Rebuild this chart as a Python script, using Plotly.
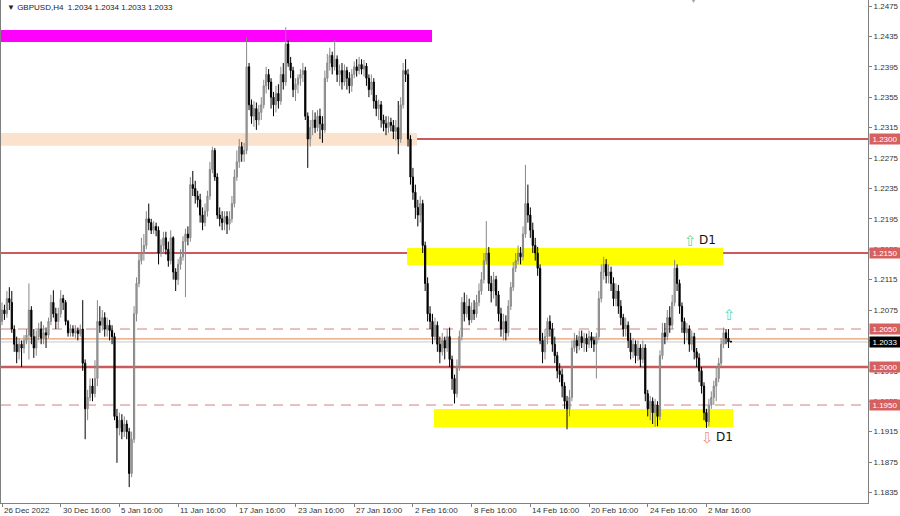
import plotly.graph_objects as go

# ---- data (prices in pips: value / 10000) ----
opens_p = [
12060,12075,12070,12090,12085,12050,12030,12020,12030,12025,
12035,12042,12075,12040,12025,12040,12050,12038,12045,12042,
12060,12085,12070,12060,12070,12090,12085,12060,12045,12050,
12045,12048,12044,12050,12005,11945,11960,11975,11965,11985,
12060,12055,12065,12050,12055,12048,12040,11935,11920,11930,
11915,11925,11915,11860,11905,12070,12110,12140,12150,12160,
12195,12190,12180,12185,12180,12150,12160,12170,12155,12140,
12170,12125,12115,12135,12145,12165,12175,12170,12240,12235,
12225,12220,12200,12190,12205,12225,12260,12285,12250,12200,
12195,12190,12198,12188,12195,12215,12250,12270,12290,12280,
12285,12395,12345,12330,12340,12325,12335,12345,12370,12385,
12375,12355,12345,12360,12350,12385,12375,12425,12400,12390,
12365,12372,12380,12385,12390,12330,12300,12315,12325,12315,
12330,12320,12312,12380,12400,12410,12395,12405,12385,12390,
12375,12390,12380,12370,12385,12395,12390,12398,12392,12396,
12380,12365,12375,12350,12340,12345,12325,12320,12315,12322,
12318,12310,12315,12300,12345,12390,12385,12300,12250,12230,
12210,12200,12215,12160,12110,12070,12060,12040,12055,12030,
12020,12035,12025,12040,12010,11985,11965,12000,12040,12085,
12070,12080,12062,12075,12070,12085,12100,12115,12140,12150,
12110,12100,12115,12095,12070,12050,12060,12045,12080,12105,
12130,12140,12150,12145,12175,12215,12200,12180,12160,12150,
12130,12035,12020,12040,12060,12050,12030,12015,11995,11990,
11975,11955,11945,11960,12025,12035,12028,12040,12032,12038,
12030,12040,12035,12030,12040,12090,12125,12135,12120,12125,
12110,12090,12100,12080,12065,12050,12055,12035,12020,12030,
12015,12025,12010,12025,11965,11945,11955,11940,11950,11935,
12015,12045,12040,12065,12055,12085,12130,12110,12080,12060,
12045,12050,12030,12040,12020,12012,11995,11975,11940,11928,
11950,11960,11975,11985,12005,12030,12045,12038,12034]

highs_p = [
12085,12082,12100,12105,12100,12055,12040,12038,12035,12042,
12050,12110,12080,12050,12048,12058,12060,12055,12052,12065,
12095,12101,12078,12078,12101,12095,12088,12062,12056,12055,
12055,12052,12056,12088,12010,11970,11985,11985,12009,12088,
12080,12075,12072,12065,12062,12055,12045,11945,11940,11938,
11935,11930,11920,11915,12080,12118,12150,12170,12175,12205,
12215,12195,12192,12190,12185,12168,12178,12178,12165,12180,
12172,12130,12142,12155,12172,12182,12185,12250,12258,12245,
12232,12228,12210,12215,12232,12270,12290,12288,12255,12210,
12205,12205,12205,12205,12225,12260,12285,12300,12296,12295,
12434,12400,12352,12350,12348,12345,12355,12378,12395,12392,
12380,12362,12370,12372,12395,12400,12447,12430,12408,12395,
12380,12385,12392,12400,12395,12335,12325,12338,12335,12338,
12340,12330,12390,12412,12420,12415,12430,12410,12398,12400,
12398,12395,12388,12392,12402,12405,12408,12405,12404,12400,
12385,12385,12380,12358,12352,12350,12332,12330,12330,12328,
12325,12325,12350,12355,12400,12405,12392,12305,12262,12240,
12220,12225,12220,12165,12118,12080,12070,12065,12060,12040,
12045,12040,12050,12052,12015,11990,12010,12048,12092,12098,
12095,12090,12085,12088,12095,12110,12125,12150,12192,12158,
12120,12125,12120,12100,12078,12070,12068,12088,12112,12138,
12150,12160,12158,12185,12266,12240,12210,12190,12170,12158,
12135,12045,12050,12065,12068,12058,12040,12020,12005,11998,
11980,11962,11970,12035,12045,12042,12048,12048,12045,12044,
12048,12046,12040,12045,12100,12135,12145,12142,12135,12132,
12118,12110,12108,12088,12070,12065,12060,12045,12038,12035,
12035,12030,12035,12030,11970,11962,11960,11958,11955,12022,
12058,12058,12075,12080,12095,12141,12135,12115,12085,12065,
12058,12055,12048,12045,12025,12018,12000,11980,11945,11958,
11968,11982,12000,12012,12038,12052,12050,12050,12034]

lows_p = [
12055,12062,12065,12075,12045,12020,12005,12010,12000,12018,
12030,12010,12030,12012,12015,12035,12030,12030,12025,12038,
12055,12065,12050,12050,12065,12075,12055,12040,12040,12040,
12038,12035,12040,11995,11905,11930,11955,11955,11960,11975,
12045,12048,12040,12040,12035,12030,11930,11874,11910,11905,
11908,11905,11842,11855,11900,12060,12105,12135,12140,12155,
12180,12175,12175,12172,12135,12145,12150,12148,12132,12135,
12115,12100,12108,12128,12140,12092,12160,12165,12225,12215,
12210,12190,12180,12185,12198,12220,12255,12245,12195,12185,
12180,12180,12175,12180,12190,12210,12245,12262,12270,12270,
12280,12338,12320,12316,12312,12318,12325,12340,12360,12365,
12340,12330,12335,12340,12345,12365,12370,12395,12380,12355,
12350,12360,12370,12375,12325,12262,12290,12305,12308,12310,
12300,12295,12308,12375,12390,12385,12390,12375,12370,12365,
12370,12365,12360,12362,12380,12382,12385,12385,12382,12370,
12355,12358,12340,12330,12325,12315,12310,12305,12308,12310,
12300,12298,12280,12295,12340,12375,12290,12240,12220,12195,
12185,12190,12150,12100,12060,12050,12030,12035,12020,12005,
12015,12010,12020,12000,11970,11952,11960,11995,12035,12060,
12065,12055,12058,12062,12065,12080,12095,12110,12135,12100,
12085,12090,12080,12060,12040,12035,12035,12040,12075,12100,
12125,12135,12135,12140,12170,12190,12170,12150,12140,12120,
12030,12005,12010,12030,12040,12020,12005,11985,11980,11960,
11945,11918,11935,11955,12020,12018,12022,12025,12020,12020,
12025,12025,12020,11985,12035,12085,12115,12110,12110,12100,
12080,12080,12070,12055,12040,12040,12025,12010,12012,12005,
12008,12000,12005,11955,11935,11930,11925,11921,11922,11930,
12010,12030,12035,12045,12050,12080,12100,12070,12045,12030,
12035,12020,12022,12010,12000,11980,11965,11930,11920,11922,
11945,11950,11955,11980,12000,12025,12030,12025,12033]

closes_p = [
12075,12070,12090,12085,12050,12030,12020,12030,12025,12035,
12042,12075,12040,12025,12040,12050,12038,12045,12042,12060,
12085,12070,12060,12070,12090,12085,12060,12045,12050,12045,
12048,12044,12050,12005,11945,11960,11975,11965,11985,12060,
12055,12065,12050,12055,12048,12040,11935,11920,11930,11915,
11925,11915,11860,11905,12070,12110,12140,12150,12160,12195,
12190,12180,12185,12180,12150,12160,12170,12155,12140,12170,
12125,12115,12135,12145,12165,12175,12170,12240,12235,12225,
12220,12200,12190,12205,12225,12260,12285,12250,12200,12195,
12190,12198,12188,12195,12215,12250,12270,12290,12280,12285,
12395,12345,12330,12340,12325,12335,12345,12370,12385,12375,
12355,12345,12360,12350,12385,12375,12425,12400,12390,12365,
12372,12380,12385,12390,12330,12300,12315,12325,12315,12330,
12320,12312,12380,12400,12410,12395,12405,12385,12390,12375,
12390,12380,12370,12385,12395,12390,12398,12392,12396,12380,
12365,12375,12350,12340,12345,12325,12320,12315,12322,12318,
12310,12315,12300,12345,12390,12385,12300,12250,12230,12210,
12200,12215,12160,12110,12070,12060,12040,12055,12030,12020,
12035,12025,12040,12010,11985,11965,12000,12040,12085,12070,
12080,12062,12075,12070,12085,12100,12115,12140,12150,12110,
12100,12115,12095,12070,12050,12060,12045,12080,12105,12130,
12140,12150,12145,12175,12215,12200,12180,12160,12150,12130,
12035,12020,12040,12060,12050,12030,12015,11995,11990,11975,
11955,11945,11960,12025,12035,12028,12040,12032,12038,12030,
12040,12035,12030,12040,12090,12125,12135,12120,12125,12110,
12090,12100,12080,12065,12050,12055,12035,12020,12030,12015,
12025,12010,12025,11965,11945,11955,11940,11950,11935,12015,
12045,12040,12065,12055,12085,12130,12110,12080,12060,12045,
12050,12030,12040,12020,12012,11995,11975,11940,11928,11950,
11960,11975,11985,12005,12030,12045,12038,12033,12033]

date_labels = ["26 Dec 2022", "30 Dec 16:00", "5 Jan 16:00", "11 Jan 16:00",
               "17 Jan 16:00", "23 Jan 16:00", "27 Jan 16:00", "2 Feb 16:00",
               "8 Feb 16:00", "14 Feb 16:00", "20 Feb 16:00", "24 Feb 16:00",
               "2 Mar 16:00"]
date_bar_index = [0, 24, 48, 72, 96, 120, 144, 168, 192, 216, 240, 264, 288]

price_ticks = ["1.2475", "1.2435", "1.2395", "1.2355", "1.2315", "1.2275",
               "1.2235", "1.2195", "1.2155", "1.2115", "1.2075", "1.2035",
               "1.1995", "1.1955", "1.1915", "1.1875", "1.1835"]

solid_levels = [1.2300, 1.2150, 1.2000]
dashed_levels = [1.2050, 1.1950]
bid_price = 1.2033
user_line = 1.2037

header = "\u25BC GBPUSD,H4  1.2034 1.2034 1.2033 1.2033"

# rectangle zones: (x0 bar, x1 bar, price low, price high)
magenta_zone = (-1.0, 175.8, 1.24277, 1.24434)
peach_zone = (-1.0, 169.7, 1.22911, 1.23080)
yellow_zone_hi = (165.6, 294.8, 1.21342, 1.21566)
yellow_zone_lo = (176.6, 298.9, 1.19210, 1.19447)

# ---- figure ----
n = len(closes_p)
xs = list(range(n))
o = [v / 10000 for v in opens_p]
h = [v / 10000 for v in highs_p]
l = [v / 10000 for v in lows_p]
c = [v / 10000 for v in closes_p]

FONT = "Tahoma, Liberation Sans, Arial, sans-serif"
LINE_RED = "#cc5a5a"

fig = go.Figure()

shapes = []
def rect(zone, color):
    x0, x1, y0, y1 = zone
    shapes.append(dict(type="rect", xref="x", yref="y", x0=x0, x1=x1, y0=y0, y1=y1,
                       fillcolor=color, line=dict(width=0), layer="below"))

rect(magenta_zone, "#ff00ff")
rect(peach_zone, "#fbe2cd")
rect(yellow_zone_hi, "#ffff00")
rect(yellow_zone_lo, "#ffff00")

for lv in solid_levels:
    shapes.append(dict(type="line", xref="paper", yref="y", x0=0, x1=1, y0=lv, y1=lv,
                       line=dict(color=LINE_RED, width=2.5 if lv == 1.2000 else 2),
                       layer="below"))
for lv in dashed_levels:
    shapes.append(dict(type="line", xref="paper", yref="y", x0=0, x1=1, y0=lv, y1=lv,
                       line=dict(color="#d38080", width=1, dash="10px,7px"),
                       layer="below"))
shapes.append(dict(type="line", xref="paper", yref="y", x0=0, x1=1, y0=user_line, y1=user_line,
                   line=dict(color="#e0824a", width=1), layer="below"))
shapes.append(dict(type="line", xref="paper", yref="y", x0=0, x1=1, y0=bid_price, y1=bid_price,
                   line=dict(color="#c8c8c8", width=1), layer="below"))

fig.add_trace(go.Candlestick(
    x=xs, open=o, high=h, low=l, close=c,
    increasing=dict(line=dict(color="#888888", width=1), fillcolor="#a8a8a8"),
    decreasing=dict(line=dict(color="#000000", width=1), fillcolor="#000000"),
    whiskerwidth=0, hoverinfo="skip", showlegend=False,
))

annotations = []
# header
annotations.append(dict(text=header, xref="paper", yref="paper", x=4 / 867, y=1 - 8 / 503,
                        xanchor="left", yanchor="middle", showarrow=False,
                        font=dict(family=FONT, size=8, color="#222222")))
# chart shift marker
annotations.append(dict(text="\u25BC", xref="x", yref="paper", x=(693 - 2) / 2.446, y=1,
                        xanchor="center", yanchor="middle", showarrow=False, yshift=1,
                        font=dict(family="DejaVu Sans", size=9, color="#a0a0a0")))
# date labels
for idx, lab in zip(date_bar_index, date_labels):
    annotations.append(dict(text=lab, xref="x", yref="paper", x=idx, y=-7 / 503,
                            xanchor="left", yanchor="middle", xshift=0, showarrow=False,
                            font=dict(family=FONT, size=8, color="#333333")))
# price labels on the right axis
for lv in solid_levels + dashed_levels:
    annotations.append(dict(text=f"{lv:.4f}", xref="paper", yref="y", x=1, y=lv,
                            xanchor="left", yanchor="middle", xshift=1, showarrow=False,
                            bgcolor="#d66060", width=30, height=10, borderpad=0,
                            font=dict(family=FONT, size=8, color="#ffffff")))
annotations.append(dict(text=f"{bid_price:.4f}", xref="paper", yref="y", x=1, y=bid_price,
                        xanchor="left", yanchor="middle", xshift=1, showarrow=False,
                        bgcolor="#000000", width=30, height=10, borderpad=0,
                        font=dict(family=FONT, size=8, color="#ffffff")))
# signal arrows and D1 text
annotations += [
    dict(text="\u21E7", xref="x", yref="y", x=(690 - 2) / 2.446, y=1.2166, showarrow=False,
         font=dict(family="DejaVu Sans", size=15, color="#5fd8a8")),
    dict(text="D1", xref="x", yref="y", x=(697 - 2) / 2.446, y=1.2167, xanchor="left",
         showarrow=False, font=dict(family="DejaVu Sans", size=12, color="#111111")),
    dict(text="\u21E7", xref="x", yref="y", x=(729 - 2) / 2.446, y=1.2068, showarrow=False,
         font=dict(family="DejaVu Sans", size=15, color="#5fd8a8")),
    dict(text="\u21E9", xref="x", yref="y", x=(707 - 2) / 2.446, y=1.1907, showarrow=False,
         font=dict(family="DejaVu Sans", size=15, color="#f0907e")),
    dict(text="D1", xref="x", yref="y", x=(714 - 2) / 2.446, y=1.1908, xanchor="left",
         showarrow=False, font=dict(family="DejaVu Sans", size=12, color="#111111")),
]

fig.update_layout(
    width=900, height=516,
    margin=dict(l=1, r=32, t=0, b=13),
    paper_bgcolor="white", plot_bgcolor="white",
    showlegend=False, hovermode=False,
    shapes=shapes, annotations=annotations,
    xaxis=dict(range=[-0.41, 354.05], rangeslider=dict(visible=False),
               tickvals=date_bar_index, ticktext=[""] * len(date_bar_index),
               ticks="outside", ticklen=3, tickcolor="#808080", showticklabels=False,
               showline=True, linecolor="#808080", linewidth=1, mirror=True,
               showgrid=False, zeroline=False, fixedrange=True),
    yaxis=dict(range=[1.18211, 1.24829], side="right",
               tickvals=[float(t) for t in price_ticks], ticktext=price_ticks,
               ticks="outside", ticklen=3, tickcolor="#808080",
               tickfont=dict(family=FONT, size=8, color="#333333"),
               showline=True, linecolor="#808080", linewidth=1, mirror=True,
               showgrid=False, zeroline=False, fixedrange=True),
)

fig.write_html(
    "out.html",
    config={"displayModeBar": False, "staticPlot": True},
    post_script="document.body.style.margin='0';document.body.style.padding='0';"
                "document.body.style.overflow='hidden';",
)
